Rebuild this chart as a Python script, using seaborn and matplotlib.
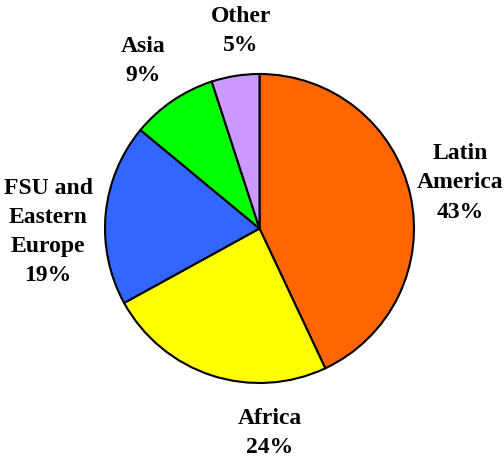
import matplotlib
matplotlib.use("Agg")
import matplotlib.pyplot as plt
import seaborn as sns

sns.set_theme(style="white")
plt.rcParams['font.family'] = ['Liberation Serif', 'DejaVu Serif']

regions = ["Latin\nAmerica", "Africa", "FSU and\nEastern\nEurope", "Asia", "Other"]
shares = [43, 24, 19, 9, 5]
colors = ["#FF6600", "#FFFF00", "#3366FF", "#00FF00", "#CC99FF"]

# label anchor positions (pixels, from top-left)
label_pos = [(460, 183), (270, 433), (48, 232), (143, 61), (241, 31)]

W, H = 504, 458
fig = plt.figure(figsize=(W / 100, H / 100), dpi=100)
ax = fig.add_axes([0, 0, 1, 1])
ax.set_xlim(0, W)
ax.set_ylim(0, H)
ax.set_aspect('equal')
ax.axis('off')

ax.pie(shares, colors=colors, startangle=90, counterclock=False,
       center=(259.5, H - 228.5), radius=154.5,
       wedgeprops=dict(edgecolor='black', linewidth=1.5))
ax.set_xlim(0, W)
ax.set_ylim(0, H)

for name, val, (px, py) in zip(regions, shares, label_pos):
    ax.text(px, H - py, f"{name}\n{val}%", ha='center', va='center',
            multialignment='center', fontsize=17, fontweight='bold',
            linespacing=1.52, color='black')

fig.savefig("out.png", dpi=100)
